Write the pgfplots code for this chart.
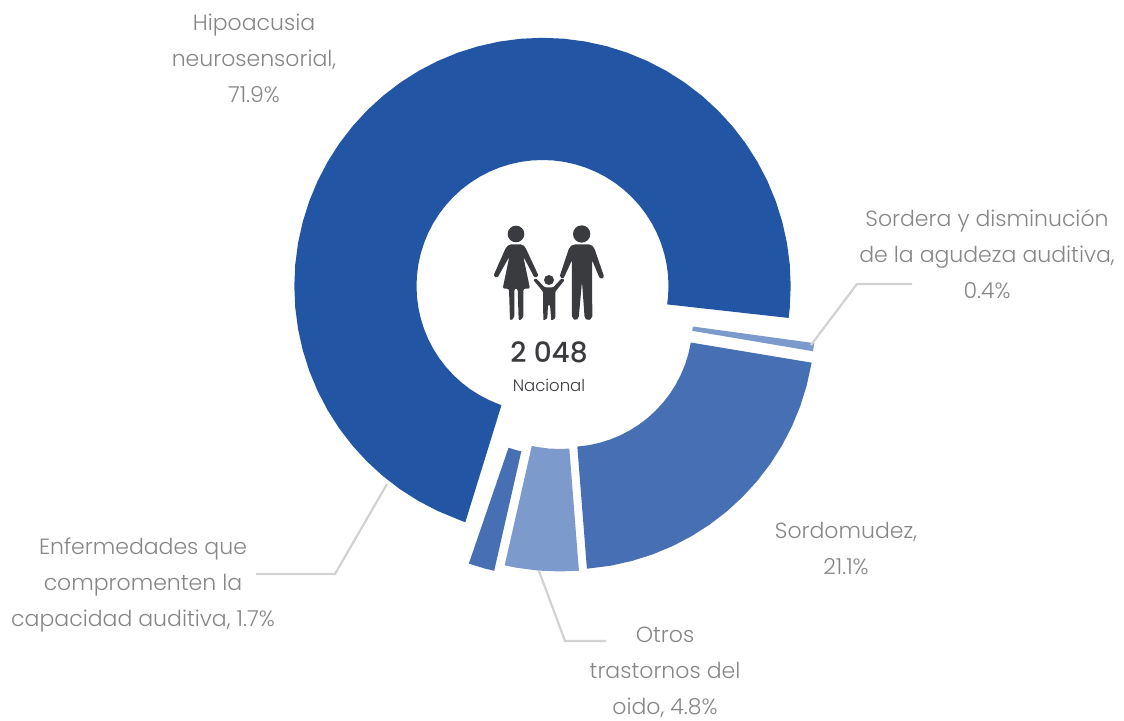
\documentclass[border=0pt]{standalone}
\usepackage{fontspec}
\setmainfont{Poppins}[UprightFont=* Light]
\newfontfamily\numfont{Poppins}[UprightFont=* Medium]
\usepackage{pgfplots}
\pgfplotsset{compat=1.18}
\definecolor{cmain}{HTML}{2255A4}
\definecolor{cmid}{HTML}{4670B3}
\definecolor{clight}{HTML}{7C9ACB}
\definecolor{cline}{HTML}{D2D2D2}
\definecolor{ctext}{HTML}{868686}
\definecolor{cdark}{HTML}{3A3B3F}
\tikzset{lbl/.style={font=\fontsize{22}{36}\selectfont, text=ctext, align=center, anchor=center, inner sep=0pt}}
\begin{document}
\begin{tikzpicture}
\begin{axis}[
  scale only axis, width=1124pt, height=720pt,
  xmin=0, xmax=1124, ymin=0, ymax=720,
  hide axis, clip=false,
]
% Hipoacusia neurosensorial 71.9
\addplot[fill=cmain, draw=none, data cs=polar, shift={(542.5pt,434pt)}] coordinates {
(-7.4,248.2)(-5,248.2)(0,248.2)(5,248.2)(10,248.2)(15,248.2)(20,248.2)(25,248.2)(30,248.2)(35,248.2)(40,248.2)(45,248.2)(50,248.2)(55,248.2)(60,248.2)(65,248.2)(70,248.2)(75,248.2)(80,248.2)(85,248.2)(90,248.2)(95,248.2)(100,248.2)(105,248.2)(110,248.2)(115,248.2)(120,248.2)(125,248.2)(130,248.2)(135,248.2)(140,248.2)(145,248.2)(150,248.2)(155,248.2)(160,248.2)(165,248.2)(170,248.2)(175,248.2)(180,248.2)(185,248.2)(190,248.2)(195,248.2)(200,248.2)(205,248.2)(210,248.2)(215,248.2)(220,248.2)(225,248.2)(230,248.2)(235,248.2)(240,248.2)(245,248.2)(250,248.2)(251.9,248.6)
(251,126)(250,126)(245,126)(240,126)(235,126)(230,126)(225,126)(220,126)(215,126)(210,126)(205,126)(200,126)(195,126)(190,126)(185,126)(180,126)(175,126)(170,126)(165,126)(160,126)(155,126)(150,126)(145,126)(140,126)(135,126)(130,126)(125,126)(120,126)(115,126)(110,126)(105,126)(100,126)(95,126)(90,126)(85,126)(80,126)(75,126)(70,126)(65,126)(60,126)(55,126)(50,126)(45,126)(40,126)(35,126)(30,126)(25,126)(20,126)(15,126)(10,126)(5,126)(0,126)(-5,126)(-8.4,126)
};
% Sordera 0.4
\addplot[fill=clight, draw=none, data cs=polar, shift={(569pt,410pt)}] coordinates {
(-7.7,247.5)(-9.6,247.5)(-9.6,125)(-7.6,125)
};
% Sordomudez 21.1
\addplot[fill=cmid, draw=none, data cs=polar, shift={(567.5pt,398pt)}] coordinates {
(-9.46,247.5)(-15,247.5)(-20,247.5)(-25,247.5)(-30,247.5)(-35,247.5)(-40,247.5)(-45,247.5)(-50,247.5)(-55,247.5)(-60,247.5)(-65,247.5)(-70,247.5)(-75,247.5)(-80,247.5)(-85.5,247.5)
(-85.5,125)(-80,125)(-75,125)(-70,125)(-65,125)(-60,125)(-55,125)(-50,125)(-45,125)(-40,125)(-35,125)(-30,125)(-25,125)(-20,125)(-15,125)(-9.46,125)
};
% Otros 4.8
\addplot[fill=clight, draw=none, data cs=polar, shift={(559.5pt,396pt)}] coordinates {
(-85.5,247.5)(-90,247.5)(-95,247.5)(-100,247.5)(-102.8,247.5)
(-102.8,125)(-100,125)(-95,125)(-90,125)(-85.5,125)
};
% Enfermedades 1.7
\addplot[fill=cmid, draw=none, data cs=polar, shift={(549pt,390.5pt)}] coordinates {
(-102.8,247.5)(-105,247.5)(-108.9,247.5)(-108.9,125)(-105,125)(-102.8,125)
};
% leader lines
\addplot[cline, line width=2.2pt] coordinates {(811,375)(857,436)(912,436)};
\addplot[cline, line width=2.2pt] coordinates {(387,236)(335,146)(256,146)};
\addplot[cline, line width=2.2pt] coordinates {(539,149)(565,79)(606,79)};
% labels
\node[lbl] at (axis cs:254,662) {Hipoacusia\\neurosensorial,\\71.9\%};
\node[lbl] at (axis cs:987,466) {Sordera y disminución\\de la agudeza auditiva,\\0.4\%};
\node[lbl] at (axis cs:846,172) {Sordomudez,\\21.1\%};
\node[lbl] at (axis cs:665,48) {Otros\\trastornos del\\oido, 4.8\%};
\node[lbl] at (axis cs:143,135) {Enfermedades que\\compromenten la\\capacidad auditiva, 1.7\%};
\node[font=\numfont\fontsize{28}{36}\selectfont, text=cdark, inner sep=0pt] at (axis cs:549,368) {2 048};
\node[font=\fontsize{16.5}{20}\selectfont, text=cdark, inner sep=0pt] at (axis cs:549,335) {Nacional};
\end{axis}
% icon: family
\begin{scope}[shift={(480pt,510pt)}, x=0.3333pt, y=-0.3333pt]
 \fill[cdark] (108,72) circle[radius=25];
 \fill[cdark] (305,72) circle[radius=26];
 \fill[cdark] (207,210) circle[radius=15];
 % woman
 \fill[cdark, rounded corners=2pt] (88,103)--(128,103)--(136,112)--(176,198)--(164,204)--(130,140)--(150,236)--(130,236)--(130,325)--(116,332)--(113,236)--(103,236)--(103,325)--(90,332)--(87,236)--(68,236)--(88,140)--(52,204)--(40,198)--(78,112)--cycle;
 % man
 \fill[cdark, rounded corners=2pt] (280,103)--(332,103)--(342,112)--(373,202)--(360,207)--(336,150)--(337,325)--(322,332)--(314,325)--(306,215)--(296,325)--(288,332)--(276,325)--(276,150)--(250,207)--(238,202)--(268,112)--cycle;
 % child
 \fill[cdark, rounded corners=1pt] (194,232)--(220,232)--(245,205)--(254,210)--(226,245)--(226,325)--(214,332)--(210,285)--(204,285)--(202,325)--(190,332)--(189,245)--(160,210)--(168,205)--cycle;
\end{scope}
\path (0,0) rectangle (1124pt,720pt);
\end{tikzpicture}
\end{document}
